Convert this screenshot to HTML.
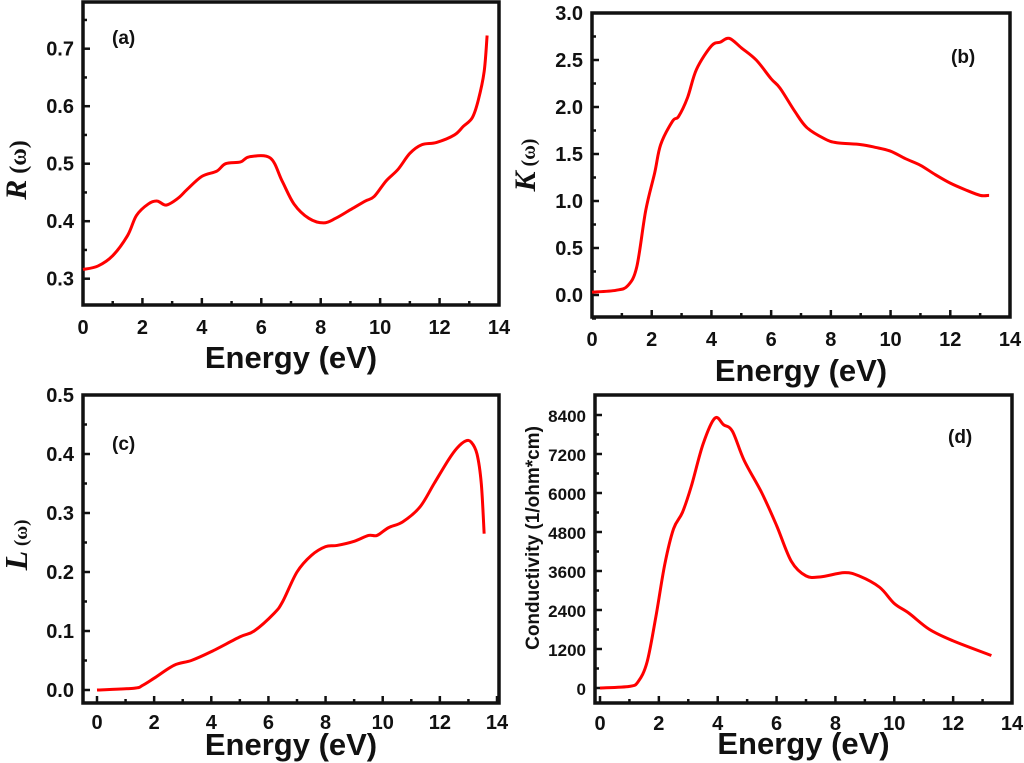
<!DOCTYPE html>
<html><head><meta charset="utf-8"><style>
html,body{margin:0;padding:0;background:#fff;}
svg{display:block;}
text{font-family:"Liberation Sans",Arial,sans-serif;font-weight:bold;fill:#111;}
</style></head><body>
<svg id="s" width="1024" height="763" xmlns="http://www.w3.org/2000/svg"></svg>
<script>
const S=document.getElementById('s');let h='';
function panel(o){
 const {L,R,T,B,x0,x14,yv0,yp0,yv1,yp1,ticks,minorY,data,lab,labx,laby,xly,tly,ylab}=o;
 const X=v=>x0+(x14-x0)*v/14, Y=v=>yp0+(yp1-yp0)*(v-yv0)/(yv1-yv0);
 h+=`<rect x="${L}" y="${T}" width="${R-L}" height="${B-T}" fill="none" stroke="#111" stroke-width="3.5"/>`;
 for(let i=0;i<=14;i++){const x=X(i);h+=`<line x1="${x}" y1="${B}" x2="${x}" y2="${B-(i%2?4:7)}" stroke="#111" stroke-width="2.5"/>`;
  if(i%2==0)h+=`<text x="${x}" y="${xly}" font-size="20" text-anchor="middle">${i}</text>`;}
 ticks.forEach(t=>{const y=Y(t[0]);h+=`<line x1="${L}" y1="${y}" x2="${L+7}" y2="${y}" stroke="#111" stroke-width="2.5"/><text x="${L-9}" y="${y+7}" font-size="${o.tfs||20}" text-anchor="end">${t[1]}</text>`;});
 minorY.forEach(v=>{const y=Y(v);h+=`<line x1="${L}" y1="${y}" x2="${L+4}" y2="${y}" stroke="#111" stroke-width="2.5"/>`;});
 let p=data.map(d=>[X(d[0]),Y(d[1])]);
 let dstr='M'+p[0][0]+','+p[0][1];
 for(let i=0;i<p.length-1;i++){const a=p[Math.max(i-1,0)],b=p[i],c=p[i+1],e=p[Math.min(i+2,p.length-1)];
  dstr+=` C${b[0]+(c[0]-a[0])/6},${b[1]+(c[1]-a[1])/6} ${c[0]-(e[0]-b[0])/6},${c[1]-(e[1]-b[1])/6} ${c[0]},${c[1]}`;}
 h+=`<path d="${dstr}" fill="none" stroke="#f00" stroke-width="3"/>`;
 h+=`<text x="${labx}" y="${laby}" font-size="19">${lab}</text>`;
 h+=`<text x="${(L+R)/2}" y="${tly}" font-size="31" text-anchor="middle">Energy (eV)</text>`;
 h+=ylab;
}
panel({L:83,R:499,T:2,B:305,x0:83,x14:499,yv0:0.3,yp0:278.7,yv1:0.7,yp1:48.7,xly:334,tly:368,
 ticks:[[0.3,'0.3'],[0.4,'0.4'],[0.5,'0.5'],[0.6,'0.6'],[0.7,'0.7']],minorY:[0.35,0.45,0.55,0.65,0.75],
 data:[[0,0.316],[0.5,0.322],[1,0.34],[1.5,0.375],[1.8,0.41],[2.2,0.43],[2.5,0.435],[2.8,0.428],[3.2,0.44],[3.5,0.455],[4,0.478],[4.5,0.487],[4.8,0.5],[5.3,0.503],[5.6,0.512],[6.3,0.51],[6.7,0.47],[7.1,0.43],[7.6,0.405],[8.1,0.397],[8.5,0.405],[9,0.42],[9.5,0.435],[9.8,0.443],[10.2,0.47],[10.6,0.49],[11,0.518],[11.4,0.533],[11.9,0.537],[12.5,0.55],[12.8,0.565],[13.1,0.58],[13.3,0.61],[13.5,0.66],[13.6,0.723]],
 lab:'(a)',labx:112,laby:44,
 ylab:`<text transform="translate(26,170) rotate(-90)" font-size="24" text-anchor="middle"><tspan font-family="Liberation Serif" font-style="italic" font-size="30">R</tspan><tspan font-family="Liberation Serif" font-size="24"> (ω)</tspan></text>`});
panel({L:592,R:1010,T:13,B:317,x0:592,x14:1010,yv0:0,yp0:295,yv1:3,yp1:13,xly:346,tly:381,
 ticks:[[0,'0.0'],[0.5,'0.5'],[1,'1.0'],[1.5,'1.5'],[2,'2.0'],[2.5,'2.5'],[3,'3.0']],minorY:[0.25,0.75,1.25,1.75,2.25,2.75,-0.25],
 data:[[0,0.03],[0.8,0.05],[1.2,0.1],[1.5,0.3],[1.8,0.9],[2.1,1.3],[2.3,1.6],[2.7,1.85],[2.9,1.9],[3.2,2.1],[3.5,2.4],[4,2.65],[4.3,2.69],[4.6,2.73],[5,2.63],[5.5,2.5],[6,2.3],[6.3,2.2],[6.8,1.95],[7.2,1.78],[7.8,1.66],[8.2,1.62],[9,1.6],[9.5,1.57],[10,1.53],[10.5,1.45],[11,1.38],[11.5,1.28],[12,1.19],[12.5,1.12],[13,1.06],[13.3,1.06]],
 lab:'(b)',labx:951,laby:63,
 ylab:`<text transform="translate(535,165) rotate(-90)" font-size="24" text-anchor="middle"><tspan font-family="Liberation Serif" font-style="italic" font-size="30">K</tspan><tspan font-family="Liberation Serif" font-size="20"> (ω)</tspan></text>`});
panel({L:83,R:499,T:395,B:703,x0:97,x14:497,yv0:0,yp0:690,yv1:0.5,yp1:395,xly:729,tly:755,
 ticks:[[0,'0.0'],[0.1,'0.1'],[0.2,'0.2'],[0.3,'0.3'],[0.4,'0.4'],[0.5,'0.5']],minorY:[0.05,0.15,0.25,0.35,0.45],
 data:[[0,0],[1.3,0.003],[1.6,0.008],[2,0.02],[2.7,0.042],[3.3,0.05],[4,0.065],[5,0.09],[5.5,0.1],[6.2,0.13],[6.5,0.15],[7,0.2],[7.5,0.228],[8,0.243],[8.4,0.245],[9,0.252],[9.5,0.262],[9.8,0.262],[10.2,0.275],[10.7,0.285],[11.3,0.31],[11.8,0.35],[12.3,0.39],[12.6,0.41],[12.9,0.422],[13.1,0.42],[13.3,0.4],[13.45,0.35],[13.55,0.265]],
 lab:'(c)',labx:112,laby:450,
 ylab:`<text transform="translate(27,545) rotate(-90)" font-size="24" text-anchor="middle"><tspan font-family="Liberation Serif" font-style="italic" font-size="32">L</tspan><tspan font-family="Liberation Serif" font-size="19"> (ω)</tspan></text>`});
panel({L:595,R:1012,T:395,B:703,x0:600,x14:1012,yv0:0,yp0:688,yv1:8400,yp1:415,xly:730,tly:754,tfs:17,
 ticks:[[0,'0'],[1200,'1200'],[2400,'2400'],[3600,'3600'],[4800,'4800'],[6000,'6000'],[7200,'7200'],[8400,'8400']],minorY:[600,1800,3000,4200,5400,6600,7800],
 data:[[0,0],[1,50],[1.3,200],[1.6,800],[1.9,2200],[2.2,3800],[2.5,4900],[2.8,5400],[3.1,6200],[3.5,7500],[3.9,8300],[4.2,8100],[4.5,7900],[4.9,7000],[5.5,6000],[6,5000],[6.5,3900],[7,3450],[7.5,3420],[8.3,3550],[8.8,3450],[9.5,3100],[10,2600],[10.5,2300],[11.2,1800],[12,1450],[13.3,1000]],
 lab:'(d)',labx:948,laby:443,
 ylab:`<text transform="translate(539,538) rotate(-90)" font-size="19" text-anchor="middle">Conductivity (1/ohm*cm)</text>`});
S.innerHTML=h;
</script>
</body></html>
